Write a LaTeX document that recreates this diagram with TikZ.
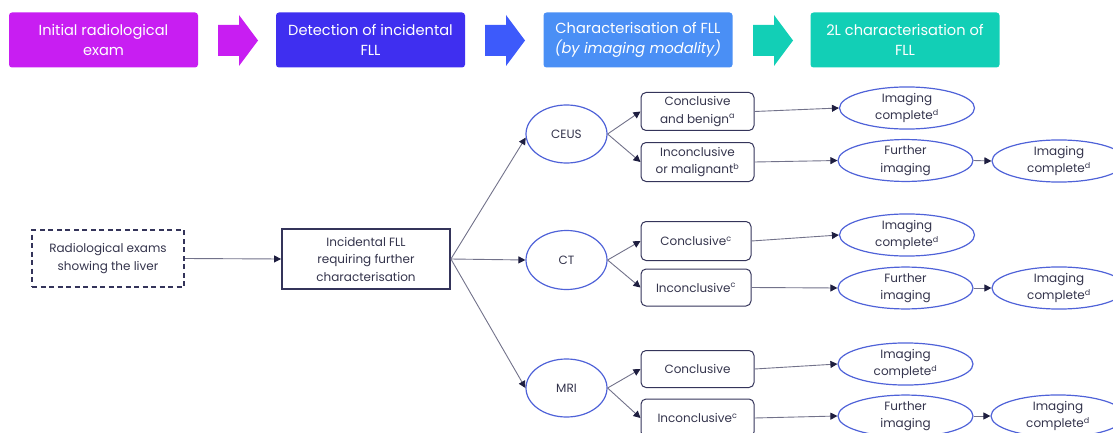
\documentclass[tikz,border=0pt]{standalone}
\usepackage{fontspec}
\setmainfont{Poppins}
\usetikzlibrary{shapes.geometric,arrows.meta}
\definecolor{magc}{HTML}{C81EF2}
\definecolor{violc}{HTML}{3F2FF0}
\definecolor{bluec}{HTML}{3D5AFB}
\definecolor{skyc}{HTML}{4A8FF5}
\definecolor{tealc}{HTML}{12CFB6}
\definecolor{navyc}{HTML}{34345A}
\definecolor{txtc}{HTML}{34344C}
\definecolor{linec}{HTML}{72728A}
\definecolor{tipc}{HTML}{1E1E40}
\definecolor{ellc}{HTML}{4F62D8}
\tikzset{
  hdr/.style={rounded corners=3pt, minimum width=189pt, minimum height=55pt, inner sep=0pt,
    text=white, font=\fontsize{14.6}{19.5}\selectfont, align=center},
  txt/.style={font=\fontsize{12}{17.5}\selectfont, text=txtc, align=center, inner sep=0pt},
  dashbox/.style={txt, draw=navyc, line width=1.5pt, dash pattern=on 5pt off 3.5pt, minimum width=152pt, minimum height=57pt},
  incbox/.style={txt, draw=navyc, line width=1.8pt, minimum width=168pt, minimum height=60pt},
  modell/.style={txt, ellipse, draw=ellc, line width=1.2pt, minimum width=81pt, minimum height=58pt},
  rbox/.style={txt, draw=navyc, rounded corners=5pt, line width=1pt, minimum width=113pt, minimum height=38pt},
  oell/.style={txt, ellipse, draw=ellc, line width=1.2pt, minimum width=135pt, minimum height=39pt},
  conn/.style={draw=linec, line width=0.9pt, -{Triangle[length=7pt,width=7pt,color=tipc]}}
}
\begin{document}
\begin{tikzpicture}[x=1pt,y=-1pt]
\useasboundingbox (0,0) rectangle (1113,433);
\clip (0,0) rectangle (1113,433);
% header
\node[hdr, fill=magc] (h1) at (103.5,40) {Initial radiological\\exam};
\node[hdr, fill=violc] (h2) at (370.5,40) {Detection of incidental\\FLL};
\node[hdr, fill=skyc] (h3) at (638,40) {Characterisation of FLL\\\textit{(by imaging modality)}};
\node[hdr, fill=tealc] (h4) at (905,40) {2L characterisation of\\FLL};
\fill[magc] (218,25) -- (239,25) -- (239,15) -- (258,40.5) -- (239,66) -- (239,56) -- (218,56) -- cycle;
\fill[bluec] (485,25) -- (506,25) -- (506,15) -- (525,40.5) -- (506,66) -- (506,56) -- (485,56) -- cycle;
\fill[tealc] (753,25) -- (774,25) -- (774,15) -- (793,40.5) -- (774,66) -- (774,56) -- (753,56) -- cycle;
% flow
\node[dashbox] (src) at (108,258.5) {Radiological exams\\showing the liver};
\node[incbox] (inc) at (366,259) {Incidental FLL\\requiring further\\characterisation};
\node[modell] (ceus) at (566.5,134) {CEUS};
\node[modell, minimum height=59pt] (ct) at (566.5,260) {CT};
\node[modell] (mri) at (566.5,388) {MRI};
\node[rbox] (b1) at (697.5,111.5) {Conclusive\\and benign\textsuperscript{a}};
\node[rbox, minimum height=39pt] (b2) at (697.5,162) {Inconclusive\\or malignant\textsuperscript{b}};
\node[rbox, minimum width=110pt, minimum height=39pt] (b3) at (696,241) {Conclusive\textsuperscript{c}};
\node[rbox, minimum width=110pt, minimum height=37pt] (b4) at (696,287.5) {Inconclusive\textsuperscript{c}};
\node[rbox, minimum height=37pt] (b5) at (697.5,369) {Conclusive};
\node[rbox] (b6) at (697.5,418) {Inconclusive\textsuperscript{c}};
\node[oell] (e1) at (907,108) {Imaging\\complete\textsuperscript{d}};
\node[oell, minimum height=40pt] (f1) at (905.5,160.5) {Further\\imaging};
\node[oell, minimum width=134pt, minimum height=37pt] (g1) at (1059,161) {Imaging\\complete\textsuperscript{d}};
\node[oell, minimum height=38pt] (e2) at (907,235) {Imaging\\complete\textsuperscript{d}};
\node[oell, minimum height=40pt] (f2) at (905.5,288) {Further\\imaging};
\node[oell, minimum width=134pt, minimum height=37pt] (g2) at (1059,288) {Imaging\\complete\textsuperscript{d}};
\node[oell, minimum height=38pt] (e3) at (905.5,364) {Imaging\\complete\textsuperscript{d}};
\node[oell, minimum height=40pt] (f3) at (905.5,416) {Further\\imaging};
\node[oell, minimum width=134pt, minimum height=37pt] (g3) at (1058,416) {Imaging\\complete\textsuperscript{d}};
% connectors
\draw[conn] (src.east) -- (inc.west);
\draw[conn] (inc.east) -- (ceus.185);
\draw[conn] (inc.east) -- (ct.west);
\draw[conn] (inc.east) -- (mri.west);
\foreach \m/\a/\b in {ceus/b1/b2, ct/b3/b4, mri/b5/b6}{
  \draw[conn] (\m.east) -- (\a.west);
  \draw[conn] (\m.east) -- (\b.west);
}
\draw[conn] (b1.east) -- (e1.west);
\draw[conn] (b2.east) -- (f1.west);
\draw[conn] (f1.east) -- (g1.west);
\draw[conn] (b3.east) -- (e2.west);
\draw[conn] (b4.east) -- (f2.west);
\draw[conn] (f2.east) -- (g2.west);
\draw[conn] (b5.east) -- (e3.west);
\draw[conn] (b6.east) -- (f3.west);
\draw[conn] (f3.east) -- (g3.west);
\end{tikzpicture}
\end{document}
